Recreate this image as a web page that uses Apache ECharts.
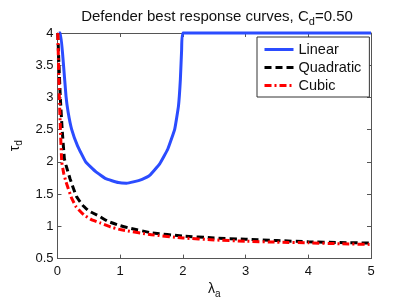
<!DOCTYPE html>
<html><head><meta charset="utf-8">
<script src="https://cdn.jsdelivr.net/npm/echarts@6/dist/echarts.min.js"></script>
<style>html,body{margin:0;padding:0;background:#fff}#c{width:409px;height:304px}</style>
</head><body><div id="c"></div>
<script>
const seriesNames = ['Linear', 'Quadratic', 'Cubic'];
const linearX = [0.02, 0.05, 0.094, 0.136, 0.17, 0.225, 0.32, 0.45, 0.61, 0.77, 0.97, 1.1, 1.21, 1.35, 1.47, 1.63, 1.76, 1.87, 1.93, 1.96, 1.98, 2.0, 5];
const linearY = [4, 4, 3.53, 3.02, 2.77, 2.51, 2.25, 2.0, 1.85, 1.74, 1.68, 1.67, 1.69, 1.73, 1.79, 1.97, 2.2, 2.51, 2.87, 3.28, 3.74, 4, 4];
const quadX = [0.005, 0.02, 0.045, 0.075, 0.11, 0.136, 0.2, 0.3, 0.4, 0.5, 0.66, 0.8, 1, 1.16, 1.5, 2, 2.5, 3, 3.5, 4, 4.5, 5];
const quadY = [4, 3.6, 3.0, 2.5, 2.05, 1.95, 1.74, 1.47, 1.33, 1.24, 1.16, 1.08, 1.01, 0.97, 0.9, 0.85, 0.82, 0.8, 0.78, 0.76, 0.75, 0.74];
const cubicX = [0.005, 0.015, 0.03, 0.047, 0.068, 0.1, 0.136, 0.225, 0.3, 0.42, 0.55, 0.69, 0.85, 1, 1.5, 2, 2.5, 3, 3.5, 4, 4.5, 5];
const cubicY = [4, 3.6, 3.0, 2.5, 2.0, 1.82, 1.69, 1.44, 1.3, 1.18, 1.1, 1.05, 0.99, 0.95, 0.87, 0.82, 0.79, 0.77, 0.755, 0.745, 0.73, 0.72];
const xTicks = [0, 1, 2, 3, 4, 5];
const yTicks = [0.5, 1, 1.5, 2, 2.5, 3, 3.5, 4];

const pair = (xs, ys) => xs.map((x, i) => [x, ys[i]]);
const font = 'Liberation Sans, Arial, sans-serif';
const axisColor = '#555';
const mkRich = (big, small, drop) => ({
  n: { fontFamily: font, fontSize: big, fontWeight: 'normal', color: '#111' },
  s: { fontFamily: font, fontSize: small, fontWeight: 'normal', color: '#111', padding: [drop, 0, 0, 0] }
});

const chart = echarts.init(document.getElementById('c'));
const baseX = {
  type: 'value', min: xTicks[0], max: xTicks[xTicks.length - 1], interval: 1,
  axisLine: { show: true, onZero: false, lineStyle: { color: axisColor, width: 1 } },
  axisTick: { show: true, inside: true, length: 4, lineStyle: { color: axisColor } },
  splitLine: { show: false }
};
const baseY = {
  type: 'value', min: yTicks[0], max: yTicks[yTicks.length - 1], interval: 0.5,
  axisLine: { show: true, onZero: false, lineStyle: { color: axisColor, width: 1 } },
  axisTick: { show: true, inside: true, length: 4, lineStyle: { color: axisColor } },
  splitLine: { show: false }
};
chart.setOption({
  animation: false,
  backgroundColor: '#fff',
  title: {
    text: '{n|Defender best response curves, C}{s|d}{n|=0.50}',
    left: 212, textAlign: 'center', top: 2,
    textStyle: { fontWeight: 'normal', rich: mkRich(15, 11, 9) }
  },
  grid: { left: 53, right: 38, top: 33, bottom: 43 },
  legend: {
    data: seriesNames, orient: 'vertical', left: 257, top: 37,
    padding: [5, 8, 4, 6], itemWidth: 29, itemHeight: 14, itemGap: 3,
    backgroundColor: '#fff', borderColor: '#333', borderWidth: 1, borderRadius: 0,
    itemStyle: { opacity: 0 },
    lineStyle: { width: 3 },
    textStyle: { fontFamily: font, fontSize: 14.5, color: '#111' }
  },
  xAxis: [
    Object.assign({}, baseX, {
      position: 'bottom',
      axisLabel: { fontFamily: font, fontSize: 13, color: '#111', margin: 6 },
      name: '{n|λ}{s|a}', nameLocation: 'middle', nameGap: 18,
      nameTextStyle: { rich: mkRich(14, 10, 9) }
    }),
    Object.assign({}, baseX, { position: 'top', axisLabel: { show: false } })
  ],
  yAxis: [
    Object.assign({}, baseY, {
      position: 'left',
      axisLabel: { fontFamily: font, fontSize: 13, color: '#111', margin: 4 },
      name: '{n|τ}{s|d}', nameLocation: 'middle', nameGap: 29, nameRotate: 90,
      nameTextStyle: { rich: mkRich(14, 10, 9) }
    }),
    Object.assign({}, baseY, { position: 'right', axisLabel: { show: false } })
  ],
  series: [
    { name: seriesNames[0], type: 'line', data: pair(linearX, linearY), symbol: 'none', smooth: 0.1, clip: false,
      lineStyle: { color: '#2b4cff', width: 3 }, itemStyle: { color: '#2b4cff' } },
    { name: seriesNames[1], type: 'line', data: pair(quadX, quadY), symbol: 'none', smooth: 0.1, clip: false,
      lineStyle: { color: '#000', width: 3, type: [7, 4] }, itemStyle: { color: '#000' } },
    { name: seriesNames[2], type: 'line', data: pair(cubicX, cubicY), symbol: 'none', smooth: 0.1, clip: false,
      lineStyle: { color: '#ff0000', width: 3, type: [7, 3, 2, 3] }, itemStyle: { color: '#ff0000' } }
  ]
});
</script></body></html>
